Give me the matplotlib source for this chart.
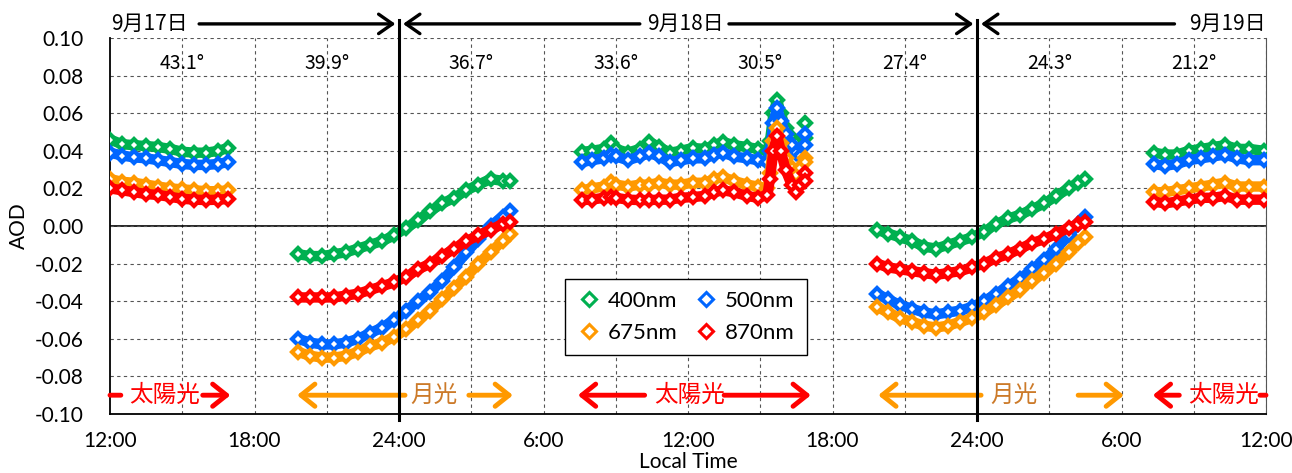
import numpy as np
import matplotlib
matplotlib.use("Agg")
import matplotlib.pyplot as plt
from matplotlib.lines import Line2D

nan = float("nan")

# hours counted from 9/17 00:00; nan breaks the line between observation runs
hours = [
    12.0, 12.5, 13.0, 13.5, 14.0, 14.5, 15.0, 15.5, 16.0, 16.5, 16.9,
    nan,
    19.8, 20.3, 20.8, 21.3, 21.8, 22.3, 22.8, 23.3, 23.8, 24.3, 24.8, 25.3, 25.8,
    26.3, 26.8, 27.3, 27.8, 28.3, 28.6,
    nan,
    31.6, 32.0, 32.5, 32.8, 33.0, 33.5, 34.0, 34.4, 34.8, 35.25, 35.7, 36.2, 36.7,
    37.1, 37.45, 37.9, 38.45, 38.9, 39.3, 39.4, 39.55, 39.7, 39.85, 40.05, 40.3,
    40.5, 40.65,
    nan, 40.86, nan, 40.86,
    nan,
    43.85, 44.3, 44.8, 45.3, 45.8, 46.3, 46.8, 47.3, 47.8, 48.3, 48.8, 49.3, 49.8,
    50.3, 50.8, 51.3, 51.8, 52.2, 52.5,
    nan,
    55.35, 55.8, 56.3, 56.8, 57.3, 57.8, 58.3, 58.8, 59.3, 59.9,
]

aod400 = [
    .046, .0435, .043, .0425, .042, .041, .0395, .039, .039, .040, .0415,
    nan,
    -.015, -.016, -.016, -.015, -.014, -.012, -.010, -.008, -.005, -.001, .003, .008,
    .012, .015, .019, .022, .025, .024, .024,
    nan,
    .0394, .040, .041, .044, .041, .039, .041, .0447, .042, .039, .040, .0415, .041,
    .043, .0447, .043, .042, .041, .040, .045, .060, .067, .060, .052, .047, .044, .0415,
    nan, .055, nan, .047,
    nan,
    -.002, -.004, -.006, -.008, -.011, -.012, -.010, -.008, -.006, -.003, .001, .004,
    .006, .009, .012, .016, .020, .023, .025,
    nan,
    .039, .038, .038, .040, .041, .042, .043, .041, .041, .040,
]

aod500 = [
    .039, .0375, .0365, .036, .035, .034, .033, .0325, .0325, .033, .034,
    nan,
    -.060, -.062, -.063, -.063, -.062, -.060, -.057, -.054, -.050, -.045, -.040, -.035,
    -.029, -.022, -.014, -.007, .000, .005, .008,
    nan,
    .034, .035, .036, .0378, .037, .035, .037, .0388, .037, .034, .035, .036, .036,
    .038, .039, .037, .036, .035, .034, .040, .055, .063, .056, .049, .043, .039, .037,
    nan, .049, nan, .043,
    nan,
    -.036, -.039, -.042, -.044, -.046, -.047, -.046, -.045, -.043, -.040, -.036, -.032,
    -.028, -.023, -.018, -.012, -.005, .001, .005,
    nan,
    .033, .032, .033, .035, .036, .037, .038, .036, .035, .035,
]

aod675 = [
    .025, .0235, .023, .022, .021, .020, .0195, .019, .0185, .0185, .019,
    nan,
    -.067, -.069, -.070, -.070, -.069, -.067, -.064, -.062, -.059, -.055, -.050, -.045,
    -.039, -.033, -.027, -.020, -.014, -.008, -.004,
    nan,
    .019, .020, .021, .0234, .022, .021, .022, .022, .023, .022, .022, .023, .023,
    .025, .026, .024, .022, .021, .020, .028, .045, .052, .044, .036, .031, .027, .031,
    nan, .036, nan, .034,
    nan,
    -.043, -.046, -.049, -.051, -.053, -.054, -.053, -.051, -.049, -.046, -.042, -.038,
    -.034, -.029, -.025, -.020, -.014, -.009, -.006,
    nan,
    .018, .018, .019, .020, .021, .022, .023, .021, .021, .021,
]

aod870 = [
    .020, .019, .018, .017, .0165, .0155, .0145, .014, .0138, .014, .0144,
    nan,
    -.038, -.038, -.038, -.038, -.037, -.036, -.034, -.032, -.030, -.027, -.023, -.020,
    -.016, -.012, -.008, -.005, -.002, .001, .002,
    nan,
    .0138, .014, .015, .0154, .015, .014, .0138, .0138, .014, .014, .015, .0154, .016,
    .018, .019, .018, .016, .015, .0165, .025, .040, .048, .040, .030, .022, .018, .022,
    nan, .028, nan, .024,
    nan,
    -.020, -.022, -.023, -.024, -.025, -.026, -.025, -.024, -.022, -.020, -.017, -.015,
    -.012, -.009, -.007, -.004, -.001, .001, .002,
    nan,
    .013, .012, .013, .014, .015, .015, .016, .014, .014, .014,
]

series_labels = ["400nm", "500nm", "675nm", "870nm"]
series_colors = ["#00B050", "#0066FF", "#FF9900", "#FF0000"]

# solar/lunar zenith-angle labels every 6 h, starting at 15:00
angle_hours = [15, 21, 27, 33, 39, 45, 51, 57]
angle_labels = ["43.1°", "39.9°", "36.7°", "33.6°", "30.5°", "27.4°", "24.3°", "21.2°"]

xtick_hours = [12, 18, 24, 30, 36, 42, 48, 54, 60]
xtick_labels = ["12:00", "18:00", "24:00", "6:00", "12:00", "18:00", "24:00", "6:00", "12:00"]

plt.rcParams["axes.unicode_minus"] = False
JP = ["Noto Sans CJK JP", "DejaVu Sans"]
LAT = ["Lato", "DejaVu Sans"]

fig = plt.figure(figsize=(12.92, 4.73), dpi=100)
ax = fig.add_axes([110 / 1292, 1 - 414 / 473, 1156 / 1292, 376 / 473])

ax.set_xlim(12, 60)
ax.set_ylim(-0.10, 0.10)

# grid
ax.set_yticks(np.arange(-0.10, 0.101, 0.02))
ax.yaxis.grid(True, color="#555555", lw=0.8, ls=(0, (3, 3)))
for h in range(15, 61, 3):
    if h in (24, 48):
        continue
    ax.axvline(h, color="#555555", lw=0.8, ls=(0, (3, 3)), zorder=0.5)
ax.axhline(0, color="black", lw=1.2, zorder=1)
for h in (24, 48):
    ax.axvline(h, ymin=-0.015, ymax=1.048, color="black", lw=2.2, clip_on=False, zorder=5)

# data
for vals, c in zip([aod400, aod500, aod675, aod870], series_colors):
    ax.plot(hours, vals, color=c, lw=7.5, solid_capstyle="round", solid_joinstyle="round", zorder=3)
    ax.plot(hours, vals, ls="none", marker="D", ms=6.2, mfc="white", mec=c, mew=3.0, zorder=3)

for h, s in zip(angle_hours, angle_labels):
    ax.text(h, 0.0865, s, ha="center", va="center", fontsize=14, family=JP)

ax.set_xticks(xtick_hours)
ax.set_xticklabels(xtick_labels, family=LAT, fontsize=15)
ax.set_yticklabels([f"{v:.2f}" for v in np.arange(-0.10, 0.101, 0.02)], family=LAT, fontsize=15)
ax.tick_params(axis="y", length=0, pad=19)
ax.tick_params(axis="x", length=0, pad=12)
ax.set_xlabel("Local Time", family=LAT, fontsize=15, labelpad=1)
ax.set_ylabel("AOD", family=LAT, fontsize=15, labelpad=4)

ax.spines["top"].set_visible(False)
ax.spines["right"].set_color("#555555")
ax.spines["right"].set_linewidth(0.8)
ax.spines["left"].set_linewidth(1.3)
ax.spines["bottom"].set_linewidth(1.3)


def arrow(x0, x1, y, color, lw, style, hl=0.5, hw=0.35):
    if style == "-":
        props = dict(arrowstyle="-", color=color, lw=lw, shrinkA=0, shrinkB=0)
    else:
        props = dict(arrowstyle=f"{style},head_length={hl},head_width={hw}",
                     color=color, lw=lw, shrinkA=0, shrinkB=0, mutation_scale=20)
    ax.annotate("", xy=(x1, y), xytext=(x0, y), arrowprops=props, annotation_clip=False)


# date spans across the top
ytop = 0.1075
arrow(15.7, 23.85, ytop, "black", 2.4, "->", 0.5, 0.35)
arrow(34.0, 24.17, ytop, "black", 2.4, "->", 0.5, 0.35)
arrow(37.7, 47.85, ytop, "black", 2.4, "->", 0.5, 0.35)
arrow(56.2, 48.17, ytop, "black", 2.4, "->", 0.5, 0.35)
ax.text(12.05, ytop, "9月17日", ha="left", va="center", fontsize=15, family=JP)
ax.text(35.9, ytop, "9月18日", ha="center", va="center", fontsize=15, family=JP)
ax.text(59.98, ytop, "9月19日", ha="right", va="center", fontsize=15, family=JP)

# sunlight / moonlight periods along the bottom
ybot = -0.090
sun, moon, moon_txt = "#FF0000", "#FF9900", "#CC7A29"
arrow(12.0, 12.45, ybot, sun, 3.5, "-")
arrow(15.85, 17.0, ybot, sun, 3.5, "->", 0.5, 0.4)
ax.text(14.25, ybot, "太陽光", ha="center", va="center", color=sun, fontsize=17, family=JP)

arrow(24.25, 19.77, ybot, moon, 3.5, "->", 0.5, 0.4)
arrow(26.9, 28.73, ybot, moon, 3.5, "->", 0.5, 0.4)
ax.text(25.45, ybot, "月光", ha="center", va="center", color=moon_txt, fontsize=17, family=JP)

arrow(34.2, 31.43, ybot, sun, 3.5, "->", 0.5, 0.4)
arrow(37.5, 41.1, ybot, sun, 3.5, "->", 0.5, 0.4)
ax.text(36.05, ybot, "太陽光", ha="center", va="center", color=sun, fontsize=17, family=JP)

arrow(48.17, 43.9, ybot, moon, 3.5, "->", 0.5, 0.4)
arrow(52.2, 54.1, ybot, moon, 3.5, "->", 0.5, 0.4)
ax.text(49.55, ybot, "月光", ha="center", va="center", color=moon_txt, fontsize=17, family=JP)

arrow(56.4, 55.3, ybot, sun, 3.5, "->", 0.5, 0.4)
arrow(59.75, 60.0, ybot, sun, 3.5, "-")
ax.text(58.25, ybot, "太陽光", ha="center", va="center", color=sun, fontsize=17, family=JP)

# legend in Excel row order (400, 500 / 675, 870)
handles = [Line2D([], [], ls="none", marker="D", ms=7, mfc="white", mec=c, mew=2.2)
           for c in series_colors]
order = [0, 2, 1, 3]
leg = ax.legend([handles[i] for i in order], [series_labels[i] for i in order],
                ncol=2, loc="center", bbox_to_anchor=(0.498, 0.258),
                prop={"family": LAT, "size": 16}, frameon=True, fancybox=False,
                edgecolor="black", framealpha=1, handletextpad=0.3, columnspacing=0.7,
                handlelength=1.1, borderpad=0.55, labelspacing=0.55)
leg.get_frame().set_linewidth(1.0)
leg.set_zorder(10)

fig.savefig("out.png", dpi=100)
